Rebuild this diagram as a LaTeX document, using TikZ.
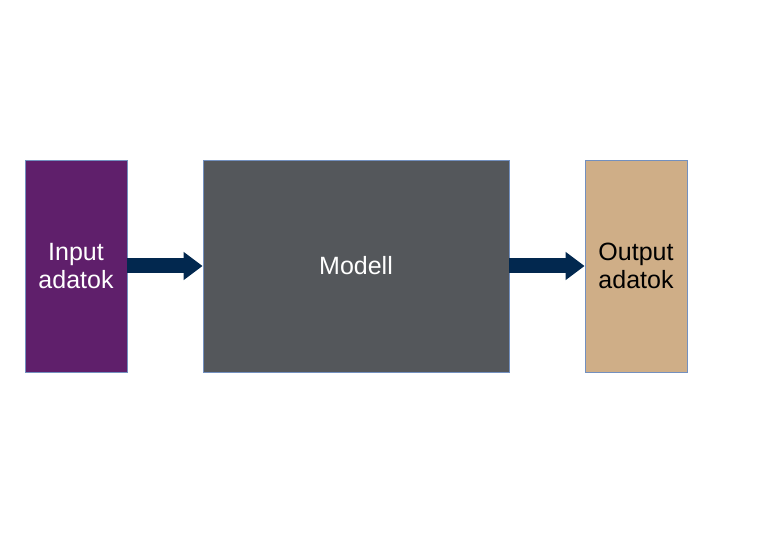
\documentclass[tikz,border=0pt]{standalone}
\usepackage{fontspec}
\setmainfont{Liberation Sans}
\usetikzlibrary{arrows.meta}

\definecolor{inputlila}{HTML}{5F1F6B}
\definecolor{modellszurke}{HTML}{54575B}
\definecolor{outputbarna}{HTML}{CFAE87}
\definecolor{keret}{HTML}{7390BF}
\definecolor{nyilkek}{HTML}{02284F}

\begin{document}
\begin{tikzpicture}[x=1pt, y=1pt]
		\useasboundingbox (0, 0) rectangle (761, 536);
		\tikzstyle{every node} = [rectangle, draw=keret, line width=0.8pt, minimum height=212pt, inner sep=0pt, align=center, font=\fontsize{25}{28.5}\selectfont]
		\node [fill=inputlila, text=white, minimum width=102pt] (input) at (76, 270) {Input\\adatok};
		\node [fill=modellszurke, text=white, minimum width=306pt] (modell) at (356, 270) {Modell};
		\node [fill=outputbarna, text=black, minimum width=102pt] (output) at (636, 270) {Output\\adatok};

		\tikzstyle{blokknyil} = [draw=nyilkek, line width=15pt, -{Triangle[length=19pt, width=27pt]}]
		\draw [blokknyil] (input.east) -- (modell.west);
		\draw [blokknyil] (modell.east) -- (output.west);
\end{tikzpicture}
\end{document}
